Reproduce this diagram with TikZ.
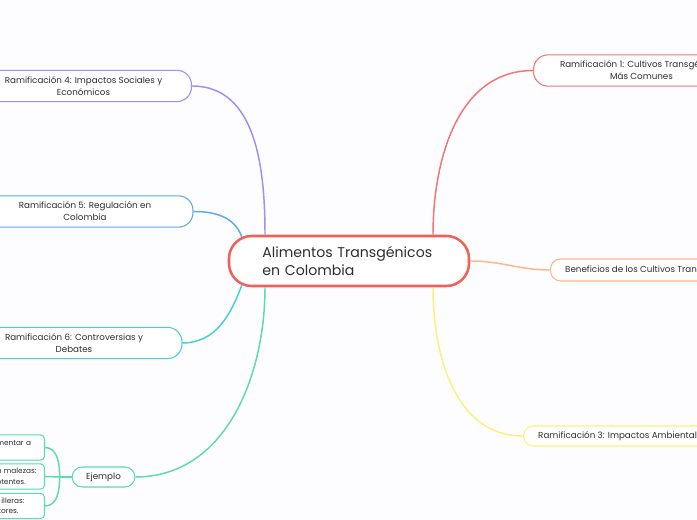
\documentclass[tikz,border=0pt]{standalone}
\usepackage{fontspec}
\setmainfont{Poppins}
\usetikzlibrary{calc,positioning}
\definecolor{bg}{HTML}{FDFDFF}
\definecolor{ink}{HTML}{2E2E2E}
\definecolor{rootred}{HTML}{F2605C}
\definecolor{redA}{HTML}{F47373}
\definecolor{orangeB}{HTML}{FFB68C}
\definecolor{yellowC}{HTML}{FFF07C}
\definecolor{purpleD}{HTML}{A48CF8}
\definecolor{blueE}{HTML}{5CA8EE}
\definecolor{cyanF}{HTML}{46CFD9}
\definecolor{greenG}{HTML}{5ADBB2}
\tikzset{
  rootbox/.style={
    draw=rootred,
    line width=1.9pt,
    fill=white,
    rounded corners=17pt,
    minimum width=180pt,
    minimum height=37.5pt,
    text width=130pt,
    align=left,
    font=\fontsize{10.6}{13.5}\selectfont,
    text=ink
  },
  branch/.style={
    draw=#1,
    line width=0.8pt,
    fill=white,
    rounded corners=11pt,
    minimum width=162pt,
    minimum height=23.5pt,
    align=center,
    font=\fontsize{6.55}{9}\selectfont,
    text=ink
  },
  pill/.style={
    draw=#1,
    line width=0.8pt,
    fill=white,
    rounded corners=7.5pt,
    inner xsep=11pt,
    font=\fontsize{6.55}{9}\selectfont,
    text=ink
  },
  leaf/.style={
    draw=greenG,
    line width=0.8pt,
    fill=white,
    rounded corners=3pt,
    text width=108pt,
    minimum height=19pt,
    inner xsep=6pt,
    align=right,
    font=\fontsize{5.5}{7.8}\selectfont,
    text=ink
  },
  link/.style={
    draw=#1,
    line width=1.1pt
  }
}

\begin{document}
\begin{tikzpicture}[x=0.75pt,y=-0.75pt]

% Background
\useasboundingbox (0,0) rectangle (697,520);
\clip (0,0) rectangle (697,520);
\fill[bg] (0,0) rectangle (697,520);

% Central topic
\node[rootbox] (root) at (349,261) {Alimentos Transgénicos\\en Colombia};

% ---------- Right side ----------
\node[branch=redA, anchor=west, inner xsep=18pt] (r1) at (533,70.5)
  {Ramificación 1: Cultivos Transgénicos\\Más Comunes};
\node[pill=orangeB, minimum height=16.5pt, anchor=west] (ben) at (550,270)
  {Beneficios de los Cultivos Transgénicos};
\node[pill=yellowC, minimum height=15pt, anchor=west] (r3) at (523,436)
  {Ramificación 3: Impactos Ambientales};

% ---------- Left side ----------
\node[branch=purpleD] (r4) at (83.5,86)
  {Ramificación 4: Impactos Sociales y\\Económicos};
\node[branch=blueE] (r5) at (85,211.5)
  {Ramificación 5: Regulación en\\Colombia};
\node[branch=cyanF] (r6) at (74,343)
  {Ramificación 6: Controversias y\\Debates};
\node[pill=greenG, minimum height=15pt, inner xsep=10.5pt] (ej) at (103.5,477) {Ejemplo};

% ejemplo leaves
\node[leaf, anchor=east] (ej1) at (45,447.5)
  {imentar a\hspace*{4pt}\mbox{}\\ \mbox{}};
\node[leaf, anchor=east] (ej2) at (45,476.5)
  {n malezas:\\otentes.\hspace*{8pt}\mbox{}};
\node[leaf, anchor=east] (ej3) at (45,506)
  {illeras:\hspace*{9pt}\mbox{}\\tores.\hspace*{13.5pt}\mbox{}};

% ---------- Connectors ----------
\draw[link=redA] ([xshift=63pt]root.north) to[out=90,in=180] (r1.west);
\draw[link=orangeB] (root.east) to[out=0,in=180] (ben.west);
\draw[link=yellowC] ([xshift=63pt]root.south) to[out=-90,in=180] (r3.west);
\draw[link=purpleD] ([xshift=-63pt]root.north) to[out=90,in=0] (r4.east);
\draw[link=blueE] ([shift={(10.5pt,-1.5pt)}]root.north west) to[out=110,in=0] (r5.east);
\draw[link=cyanF] ([shift={(10.5pt,1.5pt)}]root.south west) to[out=-110,in=0] (r6.east);
\draw[link=greenG] ([xshift=-63pt]root.south) to[out=-90,in=0] (ej.east);

\coordinate (ejj) at ([xshift=-9pt]ej.west);
\draw[link=greenG] (ej.west) -- (ejj);
\draw[link=greenG] (ejj) to[out=90,in=0] (ej1.east);
\draw[link=greenG] (ejj) -- (ej2.east);
\draw[link=greenG] (ejj) to[out=-90,in=0] (ej3.east);

\end{tikzpicture}
\end{document}
